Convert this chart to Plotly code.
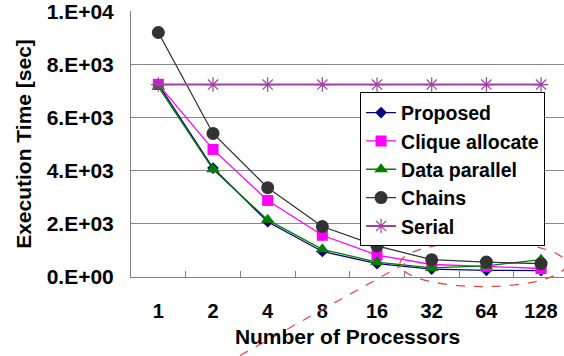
import plotly.graph_objects as go

processors = ["1", "2", "4", "8", "16", "32", "64", "128"]
proposed = [7250, 4100, 2080, 960, 500, 300, 250, 240]
clique = [7250, 4800, 2880, 1570, 820, 470, 400, 320]
data_parallel = [7150, 4050, 2150, 1040, 560, 340, 420, 650]
chains = [9200, 5400, 3360, 1900, 1170, 650, 560, 500]
serial = [7240, 7240, 7240, 7240, 7240, 7240, 7240, 7240]
y_ticks = [0, 2000, 4000, 6000, 8000, 10000]
y_tick_labels = ["0.E+00", "2.E+03", "4.E+03", "6.E+03", "8.E+03", "1.E+04"]

FONT = "Arial, Liberation Sans, sans-serif"

fig = go.Figure()
fig.add_trace(go.Scatter(x=processors, y=proposed, name="Proposed", mode="lines+markers",
                         line=dict(color="#000080", width=1.3),
                         marker=dict(symbol="diamond", size=9, color="#000080")))
fig.add_trace(go.Scatter(x=processors, y=clique, name="Clique allocate", mode="lines+markers",
                         line=dict(color="#FF00FF", width=1.3),
                         marker=dict(symbol="square", size=11, color="#FF00FF")))
fig.add_trace(go.Scatter(x=processors, y=data_parallel, name="Data parallel", mode="lines+markers",
                         line=dict(color="#008000", width=1.3),
                         marker=dict(symbol="triangle-up", size=12, color="#008000")))
fig.add_trace(go.Scatter(x=processors, y=chains, name="Chains", mode="lines+markers",
                         line=dict(color="#333333", width=1.3),
                         marker=dict(symbol="circle", size=13, color="#333333")))
fig.add_trace(go.Scatter(x=processors, y=serial, name="Serial", mode="lines+markers",
                         line=dict(color="#A040A0", width=2),
                         marker=dict(symbol="asterisk-open", size=12,
                                     line=dict(color="#A040A0", width=1.2))))

# red dashed annotation ellipse and pointer line
fig.add_shape(type="circle", xref="paper", yref="paper", layer="above",
              x0=0.621, x1=1.005, y0=-0.036, y1=0.133,
              line=dict(color="#E04848", width=1.3, dash="dash"))
fig.add_shape(type="line", xref="paper", yref="paper", layer="above",
              x0=0.633, y0=0.051, x1=0.252, y1=-0.295,
              line=dict(color="#E04848", width=1.2, dash="dash"))

fig.update_layout(
    width=564, height=356,
    margin=dict(l=131, r=0, t=11, b=78.5, autoexpand=False),
    paper_bgcolor="white", plot_bgcolor="white",
    font=dict(family=FONT, color="black"),
    showlegend=True,
    legend=dict(x=0.529, y=0.694, xanchor="left", yanchor="top",
                bgcolor="white", bordercolor="black", borderwidth=1,
                font=dict(family=FONT, size=19.5, color="black", weight="bold"),
                itemwidth=30, tracegroupgap=0),
    xaxis=dict(type="category", range=[-0.5, 7.42], automargin=False,
               showgrid=False, showline=True, linecolor="#808080", linewidth=1,
               ticks="inside", tickson="boundaries", ticklen=6, tickcolor="#808080",
               ticklabelstandoff=16, ticklabeloverflow="allow",
               tickfont=dict(family=FONT, size=20, weight="bold"),
               title=dict(text="Number of Processors", standoff=8,
                          font=dict(family=FONT, size=21, weight="bold"))),
    yaxis=dict(range=[0, 10008], tickvals=y_ticks, ticktext=y_tick_labels, automargin=False,
               showgrid=True, gridcolor="#888888", gridwidth=1,
               showline=True, linecolor="#808080", linewidth=1,
               zeroline=False, ticks="", ticklabelstandoff=12, ticklabeloverflow="allow",
               tickfont=dict(family=FONT, size=21, weight="bold"),
               title=dict(text="Execution Time [sec]", standoff=9,
                          font=dict(family=FONT, size=21, weight="bold"))),
)

# remove the browser's default 8px body margin so the figure fills the window
fig.write_html("out.html", config={"displayModeBar": False},
               post_script="document.body.style.margin='0';")
